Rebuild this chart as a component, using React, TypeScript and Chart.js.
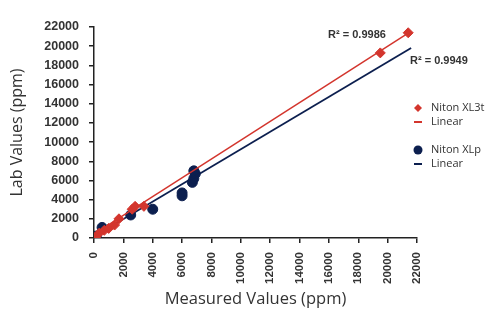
import React, { useEffect, useRef } from "react";
import { Chart, registerables } from "chart.js";

Chart.register(...registerables);

const xl3tMeasured = [100, 350, 700, 1000, 1400, 1700, 2600, 2800, 3400, 19500, 21400];
const xl3tLab = [50, 500, 800, 1000, 1350, 2000, 3000, 3300, 3300, 19300, 21400];
const xlpMeasured = [150, 550, 2500, 4000, 6000, 6000, 6700, 6800, 6900, 6800];
const xlpLab = [200, 1100, 2400, 3000, 4700, 4400, 5800, 6200, 6700, 7000];
const xl3tTrendX = [0, 21400];
const xl3tTrendY = [400, 21370];
const xlpTrendX = [0, 21600];
const xlpTrendY = [150, 19800];
const tickValues = [0, 2000, 4000, 6000, 8000, 10000, 12000, 14000, 16000, 18000, 20000, 22000];
const r2Labels = ["R² = 0.9986", "R² = 0.9949"];
const legendLabels = ["Niton XL3t", "Linear", "Niton XLp", "Linear"];

const RED = "#d3352d";
const BLUE = "#0c1f4f";

const zip = (xs: number[], ys: number[]) => xs.map((x, i) => ({ x, y: ys[i] }));

export default function App() {
  const ref = useRef<HTMLCanvasElement | null>(null);
  useEffect(() => {
    if (!ref.current) return;
    const overlay = {
      id: "overlay",
      afterDraw(chart: any) {
        const ctx = chart.ctx;
        ctx.save();
        ctx.fillStyle = "#333";
        ctx.font = "bold 11px 'Liberation Sans', Arial, sans-serif";
        ctx.textBaseline = "middle";
        ctx.textAlign = "center";
        ctx.fillText(r2Labels[0], 357, 35);
        ctx.textAlign = "left";
        ctx.fillText(r2Labels[1], 410, 61);
        // legend
        ctx.font = "11px 'Open Sans', sans-serif";
        const items = [
          { y: 108, kind: "diamond", color: RED, label: legendLabels[0] },
          { y: 122, kind: "dash", color: RED, label: legendLabels[1] },
          { y: 150, kind: "circle", color: BLUE, label: legendLabels[2] },
          { y: 164, kind: "dash", color: BLUE, label: legendLabels[3] },
        ];
        for (const it of items) {
          ctx.fillStyle = it.color;
          ctx.strokeStyle = it.color;
          if (it.kind === "diamond") {
            ctx.beginPath();
            ctx.moveTo(418, it.y - 4);
            ctx.lineTo(422, it.y);
            ctx.lineTo(418, it.y + 4);
            ctx.lineTo(414, it.y);
            ctx.closePath();
            ctx.fill();
          } else if (it.kind === "circle") {
            ctx.beginPath();
            ctx.arc(418, it.y, 4.5, 0, Math.PI * 2);
            ctx.fill();
          } else {
            ctx.lineWidth = 2;
            ctx.beginPath();
            ctx.moveTo(414, it.y);
            ctx.lineTo(422, it.y);
            ctx.stroke();
          }
          ctx.fillStyle = "#333";
          ctx.textAlign = "left";
          ctx.fillText(it.label, 431, it.y);
        }
        ctx.restore();
      },
    };
    const fmt = (v: any) => String(v);
    const chart = new Chart(ref.current, {
      type: "scatter",
      data: {
        datasets: [
          {
            label: "XL3t Linear",
            data: zip(xl3tTrendX, xl3tTrendY),
            showLine: true,
            borderColor: RED,
            borderWidth: 1.5,
            pointRadius: 0,
            order: 1,
          },
          {
            label: "XLp Linear",
            data: zip(xlpTrendX, xlpTrendY),
            showLine: true,
            borderColor: BLUE,
            borderWidth: 1.8,
            pointRadius: 0,
            order: 2,
          },
          {
            label: legendLabels[2],
            data: zip(xlpMeasured, xlpLab),
            backgroundColor: BLUE,
            borderColor: BLUE,
            pointRadius: 5,
            pointStyle: "circle",
            order: 3,
          },
          {
            label: legendLabels[0],
            data: zip(xl3tMeasured, xl3tLab),
            backgroundColor: RED,
            borderColor: RED,
            pointRadius: 5,
            pointStyle: "rectRot",
            order: 0,
          },
        ],
      },
      plugins: [overlay],
      options: {
        animation: false,
        responsive: false,
        maintainAspectRatio: false,
        layout: { padding: { left: 0, right: 83, top: 27, bottom: 14 } },
        plugins: { legend: { display: false }, tooltip: { enabled: false } },
        scales: {
          x: {
            type: "linear",
            min: 0,
            max: 22000,
            afterFit: (s: any) => { s.height = 71; },
            afterBuildTicks: (s: any) => { s.ticks = tickValues.map((v) => ({ value: v })); },
            grid: { drawOnChartArea: false, tickLength: 5, color: "#222", lineWidth: 1.5 },
            border: { color: "#222", width: 1.5 },
            ticks: {
              minRotation: 90,
              maxRotation: 90,
              padding: 9,
              color: "#333",
              callback: fmt,
              font: { family: "'Liberation Sans', Arial, sans-serif", size: 11.5, weight: "bold" },
            },
            title: {
              display: true,
              text: "Measured Values (ppm)",
              color: "#333",
              font: { family: "'Open Sans', sans-serif", size: 16.5 },
              padding: { top: 4, bottom: 0 },
            },
          },
          y: {
            type: "linear",
            min: 0,
            max: 22000,
            afterFit: (s: any) => { s.width = 94; },
            afterBuildTicks: (s: any) => { s.ticks = tickValues.map((v) => ({ value: v })); },
            grid: { drawOnChartArea: false, tickLength: 5, color: "#222", lineWidth: 1.5 },
            border: { color: "#222", width: 1.5 },
            ticks: {
              padding: 10,
              color: "#333",
              callback: fmt,
              font: { family: "'Liberation Sans', Arial, sans-serif", size: 12.5, weight: "bold" },
            },
            title: {
              display: true,
              text: "Lab Values (ppm)",
              color: "#333",
              font: { family: "'Open Sans', sans-serif", size: 16 },
              padding: { top: 8, bottom: 0 },
            },
          },
        },
      },
    });
    return () => chart.destroy();
  }, []);
  return (
    <div style={{ position: "absolute", left: 0, top: 0, width: 500, height: 323, background: "#fff" }}>
      <canvas ref={ref} width={500} height={323} style={{ width: 500, height: 323 }} />
    </div>
  );
}
